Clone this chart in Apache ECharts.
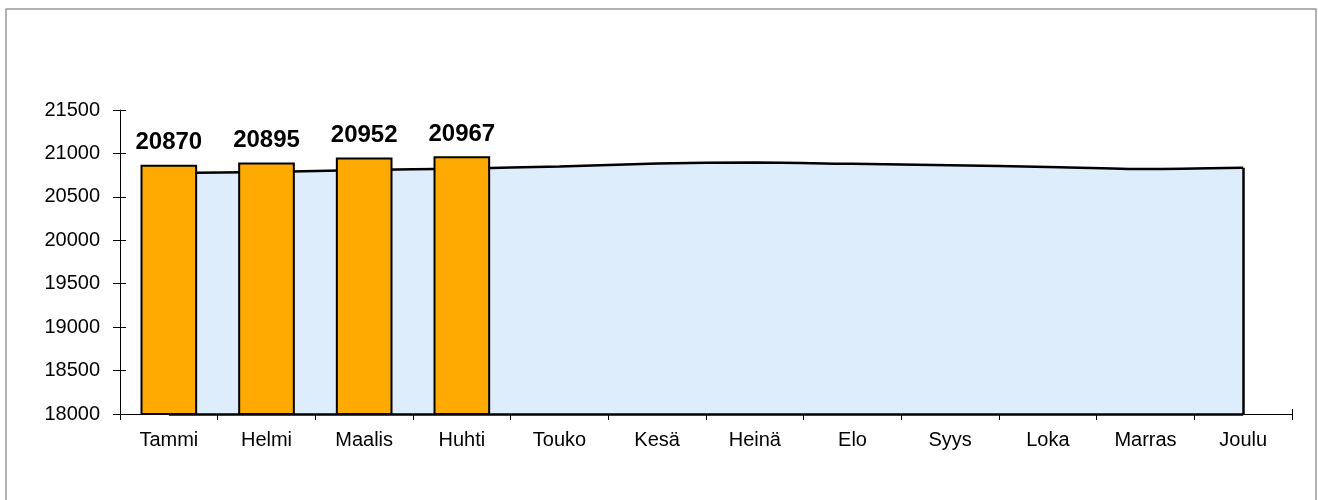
<!DOCTYPE html>
<html>
<head>
<meta charset="utf-8">
<script src="https://cdn.jsdelivr.net/npm/echarts@6/dist/echarts.min.js"></script>
<style>html,body{margin:0;padding:0;background:#fff}#c{width:1318px;height:500px}</style>
</head>
<body>
<div id="c"></div>
<script>
var categories = ['Tammi','Helmi','Maalis','Huhti','Touko','Kesä','Heinä','Elo','Syys','Loka','Marras','Joulu'];
var actualValues = [20870, 20895, 20952, 20967, '-', '-', '-', '-', '-', '-', '-', '-'];
var forecastValues = [20775, 20785, 20810, 20825, 20850, 20885, 20895, 20880, 20865, 20845, 20820, 20835];
var yTicks = {min: 18000, max: 21500, interval: 500};

var FONT = "'Liberation Sans', Arial, sans-serif";
var chart = echarts.init(document.getElementById('c'), null, {renderer: 'canvas'});
var lastIdx = categories.length - 1;
chart.setOption({
  backgroundColor: '#fff',
  animation: false,
  textStyle: {fontFamily: FONT},
  graphic: [{
    type: 'rect', shape: {x: 6, y: 9, width: 1310, height: 500},
    style: {fill: 'none', stroke: '#999', lineWidth: 1.5}, silent: true, z: -10
  }],
  grid: {left: 120, right: 26, top: 110, bottom: 86, containLabel: false},
  xAxis: [{
    type: 'category', data: categories, boundaryGap: true,
    axisLine: {lineStyle: {color: '#000', width: 1}},
    axisTick: {show: true, length: 6, lineStyle: {color: '#000'}},
    axisLabel: {color: '#000', fontSize: 20, fontFamily: FONT, margin: 16}
  }, {
    type: 'category', data: categories, boundaryGap: true, position: 'bottom',
    axisLine: {show: false},
    axisTick: {show: true, inside: true, length: 5, lineStyle: {color: '#000'}},
    axisLabel: {show: false}
  }],
  yAxis: [{
    type: 'value', min: yTicks.min, max: yTicks.max, interval: yTicks.interval,
    axisLine: {show: true, lineStyle: {color: '#000', width: 1}},
    axisTick: {show: true, length: 7, lineStyle: {color: '#000'}},
    axisLabel: {color: '#000', fontSize: 20, fontFamily: FONT, margin: 20,
      formatter: function (v) { return String(v); }},
    splitLine: {show: false}
  }, {
    type: 'value', min: yTicks.min, max: yTicks.max, interval: yTicks.interval, position: 'left',
    axisLine: {show: false},
    axisTick: {show: true, inside: true, length: 6, lineStyle: {color: '#000'}},
    axisLabel: {show: false},
    splitLine: {show: false}
  }],
  series: [{
    type: 'line', data: forecastValues, xAxisIndex: 0, yAxisIndex: 0,
    symbol: 'none', smooth: 0.25, z: 2,
    lineStyle: {color: '#000', width: 2.5},
    areaStyle: {color: '#DDEDFC', opacity: 1, origin: 'start'},
    markLine: {
      silent: true, symbol: 'none', label: {show: false},
      lineStyle: {color: '#000', width: 2.5, type: 'solid'},
      data: [
        [{coord: [categories[lastIdx], yTicks.min]}, {coord: [categories[lastIdx], forecastValues[lastIdx]]}],
        [{coord: [categories[0], yTicks.min]}, {coord: [categories[lastIdx], yTicks.min]}]
      ]
    }
  }, {
    type: 'bar', data: actualValues, xAxisIndex: 0, yAxisIndex: 0,
    barWidth: '58%', z: 5,
    itemStyle: {color: '#FFAA00', borderColor: '#000', borderWidth: 2},
    label: {show: true, position: 'top', distance: 10, color: '#000', fontSize: 24, fontWeight: 'bold', fontFamily: FONT}
  }]
});
</script>
</body>
</html>
